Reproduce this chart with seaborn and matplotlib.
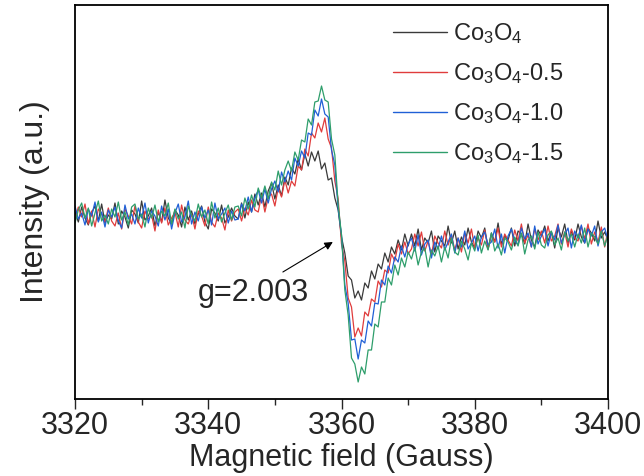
import numpy as np
import pandas as pd
import matplotlib
matplotlib.use("Agg")
import matplotlib.pyplot as plt
import seaborn as sns

# Magnetic field sweep (Gauss), 0.5 G steps
field_start, field_stop, field_step = 3320.0, 3400.0, 0.5
field = np.arange(field_start, field_stop + field_step / 2, field_step)

labels = [r"Co$_3$O$_4$", r"Co$_3$O$_4$-0.5", r"Co$_3$O$_4$-1.0", r"Co$_3$O$_4$-1.5"]

co3o4 = [
    3, -7, 8, -3, -10, 2, 9, -6, 11, -8,
    0, -4, 12, -9, 4, -2, -13, 5, 1, -8,
    14, -5, -1, 7, -11, 3, -7, 15, -3, -9,
    5, 0, -12, 8, -5, 4, -9, 1, 9, -7,
    -14, 6, 2, -6, 10, -8, -2, 7, -1,
    -4, 12, -3, 13, 3, 21, 10, 22, 8, 24,
    32, 16, 30, 19, 38, 30, 47, 41, 56, 45,
    61, 49, 63, 54, 64, 46, 52, 35, 37, 17,
    5, -22, -38, -61, -65, -83, -76, -85, -68, -73,
    -56, -64, -49, -54, -38, -47, -32, -39, -25, -35,
    -19, -31,
    -19, -31, -14, -35, -23, -28, -16, -37, -21, -26,
    -31, -11, -28, -16, -34, -22, -30, -13, -27, -33,
    -16, -23, -13, -34, -18, -27, -8, -29, -21, -25,
    -13, -31, -16, -19, -29, -9, -25, -32, -15, -21,
    -11, -26, -17, -33, -13, -22, -9, -28, -16, -25,
    -9, -22, -28, -13, -18, -26, -6, -23, -17, -25,
]

co3o4_05 = [
    -5, 8, -2, 11, -9, 4, -12, 6, 1, -7,
    7, -6, -11, 2, -14, 6, -1, -9, 9, -7,
    -13, 4, -4, 0, -16, 5, -8, 7, -10, -3,
    3, -12, 10, -5, -9, 1, -14, 4, -1, -11,
    8, -7, -12, 2, -3, -15, 5, -6, 3,
    6, -6, 7, 0, 15, 5, 3, 20, 3, 18,
    21, 9, 27, 18, 35, 22, 34, 29, 49, 45,
    66, 59, 82, 77, 92, 83, 97, 76, 67, 34,
    16, -29, -46, -83, -92, -122, -113, -121, -97, -101,
    -84, -87, -66, -72, -55, -58, -39, -46, -29, -39,
    -27, -39,
    -34, -19, -31, -17, -36, -26, -40, -21, -28, -33,
    -16, -30, -20, -35, -23, -37, -18, -28, -14, -33,
    -23, -30, -15, -34, -20, -27, -13, -32, -19, -25,
    -31, -15, -26, -9, -28, -20, -32, -14, -25, -16,
    -28, -11, -26, -21, -9, -29, -17, -32, -14, -23,
    -26, -11, -24, -9, -29, -17, -27, -12, -32, -15,
]

co3o4_10 = [
    9, -4, 2, -10, 6, -1, 13, -7, 3, -12,
    5, -2, 8, -6, -13, 10, -4, 1, -9, 7,
    -3, 12, -8, 4, -1, -11, 9, -5, 6, -14,
    2, 11, -7, -2, 14, -9, 3, -6, 8, -3,
    5, -10, 12, -4, 1, 7, -8, 4, -5,
    -4, 11, 4, 18, 3, 17, 25, 12, 26, 12,
    26, 34, 23, 43, 33, 44, 35, 57, 49, 64,
    57, 82, 80, 105, 99, 116, 101, 98, 65, 50,
    6, -20, -70, -88, -125, -124, -144, -125, -128, -106,
    -111, -88, -89, -65, -70, -51, -58, -42, -47, -31,
    -42, -29,
    -23, -36, -20, -40, -29, -25, -43, -27, -34, -21,
    -35, -27, -19, -38, -23, -32, -16, -34, -28, -21,
    -36, -22, -17, -30, -27, -14, -33, -19, -38, -21,
    -14, -26, -30, -13, -24, -18, -32, -11, -29, -21,
    -14, -31, -17, -25, -10, -28, -20, -13, -33, -16,
    -23, -10, -28, -14, -21, -11, -31, -17, -13, -25,
]

co3o4_15 = [
    -8, 5, 12, -3, 7, -11, 2, 14, -6, 0,
    -9, 6, -2, 13, -5, 3, -10, 8, 11, -4,
    1, -12, 7, -3, 10, -7, 4, -1, 12, -9,
    6, -4, 3, -13, 9, 0, -6, 11, -2, 5,
    -9, 13, -3, 7, -7, 2, 10, -5, 8,
    9, -1, 17, 6, 20, 8, 27, 17, 29, 16,
    33, 25, 44, 30, 45, 54, 44, 63, 55, 75,
    73, 96, 90, 113, 114, 129, 115, 113, 76, 60,
    10, -20, -75, -100, -143, -149, -167, -152, -159, -135,
    -135, -109, -112, -87, -87, -63, -70, -50, -60, -43,
    -52, -37,
    -44, -32, -50, -37, -33, -52, -35, -41, -31, -47,
    -32, -43, -23, -37, -40, -26, -34, -45, -28, -36,
    -20, -38, -26, -35, -18, -36, -29, -40, -23, -27,
    -35, -22, -31, -18, -39, -25, -21, -34, -17, -30,
    -33, -20, -16, -30, -23, -35, -17, -26, -19, -32,
    -19, -28, -13, -32, -18, -22, -29, -16, -31, -20,
]

series = [co3o4, co3o4_05, co3o4_10, co3o4_15]
colors = ["#3a3a3a", "#e03c3c", "#2060d6", "#2e9e6b"]

x_ticks = [3320, 3340, 3360, 3380, 3400]
annot_text = "g=2.003"

frames = []
for lab, vals in zip(labels, series):
    frames.append(pd.DataFrame({"field": field, "intensity": vals, "sample": lab}))
df = pd.concat(frames, ignore_index=True)

sns.set_style("ticks")
plt.rcParams["font.family"] = ["Liberation Sans", "DejaVu Sans"]
plt.rcParams["mathtext.fontset"] = "custom"
plt.rcParams["mathtext.rm"] = "Liberation Sans"
plt.rcParams["mathtext.it"] = "Liberation Sans"

fig = plt.figure(figsize=(6.44, 4.76), dpi=100)
ax = fig.add_axes([75 / 644, 1 - 399 / 476, (608 - 75) / 644, (399 - 5) / 476])

sns.lineplot(data=df, x="field", y="intensity", hue="sample",
             palette=dict(zip(labels, colors)), hue_order=labels,
             linewidth=0.9, ax=ax, legend=True)

ax.set_xlim(3320, 3400)
ax.set_ylim(-184, 210)
ax.set_xticks(x_ticks)
ax.set_xticks(np.arange(3330, 3400, 20), minor=True)
ax.set_xticklabels([str(t) for t in x_ticks])
ax.set_yticks([])
ax.tick_params(axis="x", which="major", length=7, width=1, direction="out",
               labelsize=22, pad=2)
ax.tick_params(axis="x", which="minor", length=4, width=1, direction="out")
for s in ax.spines.values():
    s.set_linewidth(1.3)
    s.set_color("black")
    s.set_visible(True)

ax.set_xlabel("Magnetic field (Gauss)", fontsize=22, labelpad=1)
ax.set_ylabel("Intensity (a.u.)", fontsize=23, labelpad=18)

leg = ax.legend(loc="upper left", bbox_to_anchor=(0.565, 1.0), frameon=False,
                fontsize=17, handlelength=2.3, handletextpad=0.25,
                labelspacing=0.63, borderaxespad=0.3)
for line in leg.get_lines():
    line.set_linewidth(1.0)

ax.annotate("", xy=(3358.7, -27), xytext=(3351.2, -57),
            arrowprops=dict(arrowstyle="-|>", color="black", lw=0.8,
                            mutation_scale=12, shrinkA=0, shrinkB=0))
ax.text(3346.7, -78, annot_text, fontsize=22, ha="center", va="center")

fig.savefig("out.png", dpi=100)
